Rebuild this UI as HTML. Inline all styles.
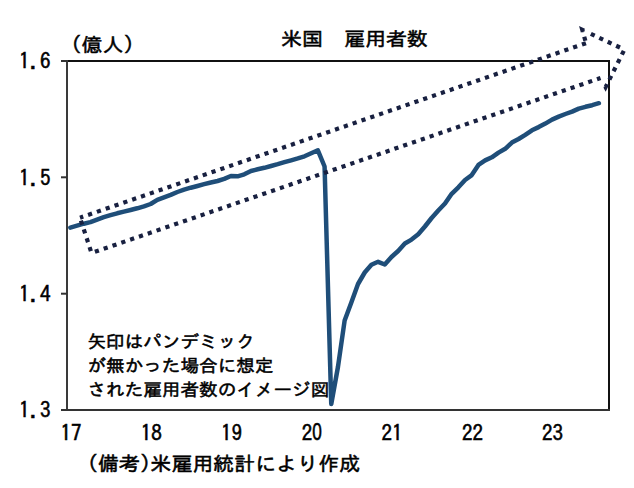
<!DOCTYPE html>
<html><head><meta charset="utf-8">
<style>
html,body{margin:0;padding:0;background:#fff;}
body{width:634px;height:488px;overflow:hidden;position:relative;}
svg{position:absolute;left:0;top:0;}
text{font-family:"IPAGothic","Noto Sans CJK JP",monospace;fill:#000;stroke:#000;stroke-width:0.55px;}
</style></head><body>
<svg width="634" height="488" viewBox="0 0 634 488">
<rect x="0" y="0" width="634" height="488" fill="#fff"/>
<!-- frame -->
<line x1="67" y1="61" x2="609" y2="61" stroke="#111" stroke-width="2"/>
<line x1="609" y1="60" x2="609" y2="411" stroke="#111" stroke-width="2"/>
<line x1="67" y1="60" x2="67" y2="411" stroke="#3a3a3a" stroke-width="2"/>
<line x1="61" y1="410" x2="610" y2="410" stroke="#333" stroke-width="2"/>
<line x1="61" y1="61" x2="67" y2="61" stroke="#333" stroke-width="2"/>
<line x1="61" y1="177.3" x2="67" y2="177.3" stroke="#333" stroke-width="2"/>
<line x1="61" y1="293.7" x2="67" y2="293.7" stroke="#333" stroke-width="2"/>
<!-- y labels -->
<text x="19.1" y="69.4" font-size="21">1.6</text>
<text x="19.1" y="185.7" font-size="21">1.5</text>
<text x="19.1" y="302.1" font-size="21">1.4</text>
<text x="19.1" y="418.4" font-size="21">1.3</text>
<!-- x labels -->
<g font-size="21" text-anchor="middle">
<text x="70.9" y="441">17</text>
<text x="151.2" y="441">18</text>
<text x="231.5" y="441">19</text>
<text x="311.8" y="441">2<tspan font-family="Liberation Sans" font-size="24" dy="-1" textLength="9.6" lengthAdjust="spacingAndGlyphs">0</tspan></text>
<text x="392.1" y="441">21</text>
<text x="472.4" y="441">22</text>
<text x="552.6" y="441">23</text>
</g>
<g transform="translate(0,44.099999999999994) scale(1,0.93) translate(0,-44.05)"><text x="71" y="52.2" font-size="21">(億人)</text></g>
<g transform="translate(0,37.75) scale(1,0.92) translate(0,-37.75)"><text x="281" y="46.3" font-size="21">米国　雇用者数</text></g>
<g transform="translate(0,463.2) scale(1,0.94) translate(0,-462.75)"><text x="87.5" y="470.8" font-size="21">(備考)米雇用統計により作成</text></g>
<g font-size="18.6">
<g transform="translate(0,341.40000000000003) scale(1,0.94) translate(0,-340.8)"><text x="87.5" y="348">矢印はパンデミック</text></g>
<g transform="translate(0,365.15) scale(1,0.94) translate(0,-364.75)"><text x="87.5" y="372">が無かった場合に想定</text></g>
<g transform="translate(0,389.9) scale(1,0.94) translate(0,-389.5)"><text x="87.5" y="396">された雇用者数のイメージ図</text></g>
</g>
<!-- data line -->
<polyline points="70.35,227.6 77.04,225.7 83.73,223.7 90.42,222.1 97.11,219.6 103.8,217.2 110.49,215.2 117.18,213.3 123.87,211.6 130.56,210 137.25,208.3 143.94,206.4 150.63,204 157.32,199.8 164.01,197.3 170.7,194.9 177.39,192 184.08,189.6 190.77,187.7 197.46,186 204.15,184.2 210.84,182.5 217.53,181 224.22,178.9 230.91,176 237.6,176.3 244.29,174.3 250.98,171 257.67,169.3 264.36,167.8 271.05,166 277.74,164.2 284.43,162.2 291.12,160.3 297.81,158.4 304.5,156.3 311.19,153.3 317.88,150.3 324.57,166.5 331.26,404 337.95,367 344.64,320.5 351.33,302.5 358.02,284 364.71,272.5 371.4,264.8 378.09,261.8 384.78,264.5 391.47,257 398.16,251 404.85,243.5 411.54,239.6 418.23,234.3 424.92,226.5 431.61,218 438.3,210.5 444.99,203.5 451.68,193.8 458.37,187.3 465.06,180 471.75,175.1 478.44,164.9 485.13,160.4 491.82,157.3 498.51,152.6 505.2,148.8 511.89,142.6 518.58,139 525.27,134.8 531.96,130.3 538.65,127.1 545.34,123.6 552.03,119.6 558.72,116.6 565.41,114 572.1,111.6 578.79,108.6 585.48,106.8 592.17,105.2 598.86,103.2" fill="none" stroke="#1F4E79" stroke-width="4.5" stroke-linejoin="round" stroke-linecap="round"/>
<!-- arrow -->
<g fill="none" stroke="#182040" stroke-width="4.2" stroke-dasharray="4.2 5.115" stroke-linejoin="miter">
<path d="M80,217.7 L586,43.13" stroke-dasharray="4.2 5.13" stroke-dashoffset="0.800"/>
<path d="M586,43.13 L582.3,29.8 L584.1,30.65" stroke-dashoffset="6.900"/>
<path d="M586.8,31.93 L624.4,49.6" stroke-dashoffset="4.815"/>
<path d="M624.4,49.6 L605.6,87.2 L604.7,85.5" stroke-dashoffset="7.915"/>
<path d="M600.5,78 L91.5,253" stroke-dashoffset="0.500"/>
<path d="M91.5,253 L80,217.7" stroke-dashoffset="7.315"/>
</g>
</svg>
</body></html>
